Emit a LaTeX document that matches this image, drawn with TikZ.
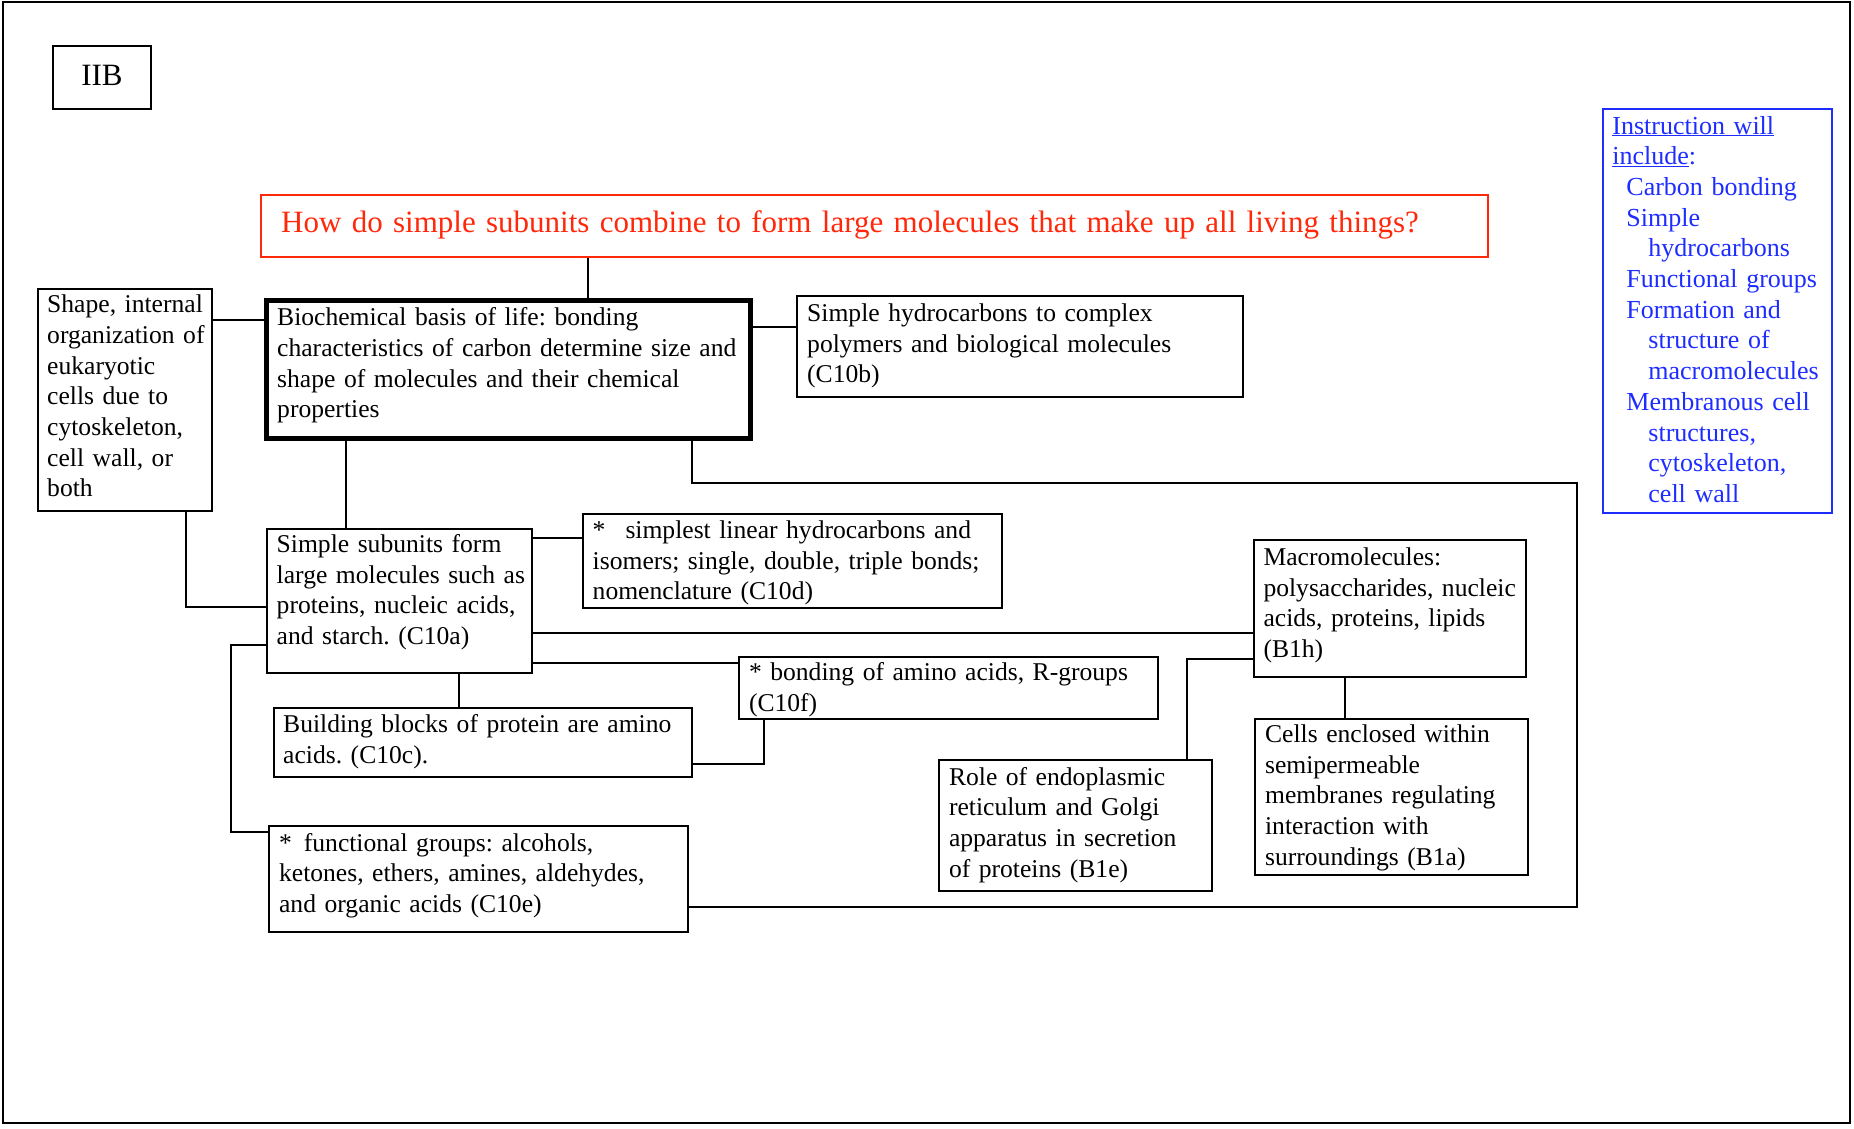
\documentclass[tikz,border=0pt]{standalone}
\usepackage{fontspec}
\setmainfont{Liberation Serif}
\frenchspacing
\definecolor{qred}{RGB}{255,40,10}
\definecolor{iblue}{RGB}{30,45,255}
\newcommand\mybox[6][]{%
  \node[bx,#1,minimum width={(#5-#3)*1pt},minimum height={(#6-#4)*1pt}] (#2) at ({(#3+#5)/2},{(#4+#6)/2}) {};}
\begin{document}
\begin{tikzpicture}[x=1pt,y=-1pt,
  bx/.style={draw, line width=2pt, inner sep=0pt},
  tx/.style={anchor=base west, inner sep=0pt, align=left, text width=600pt, font=\fontsize{25.6}{30.7}\selectfont\frenchspacing},
  ln/.style={line width=2pt}]
\useasboundingbox (0,0) rectangle (1854,1128);
\draw[line width=2pt] (3,2) rectangle (1850,1123);

% IIB
\mybox{iib}{53}{46.4}{151}{109}
\node[inner sep=0pt, anchor=base, font=\fontsize{31}{36}\selectfont] (iibt) at (102,85.7) {IIB};

% question
\mybox[draw=qred]{q}{261}{195}{1488}{256.7}
\node[tx, text=qred, font=\fontsize{31}{38}\selectfont, text width=1300pt] (qt) at (281,232.5) {How do simple subunits combine to form large molecules that make up all living things?};

% boxes
\mybox{shape}{38}{288.6}{212}{511.4}
\node[tx] (shapet) at ([shift={(10,25)}]shape.north west) {Shape, internal\\organization of\\eukaryotic\\cells due to\\cytoskeleton,\\cell wall, or\\both};

\mybox[line width=5pt]{bio}{266.5}{300}{750}{438.5}
\node[tx] (biot) at ([shift={(13,28.1)}]bio.north west) {Biochemical basis of life: bonding\\characteristics of carbon determine size and\\shape of molecules and their chemical\\properties};

\mybox{hydro}{797}{296}{1242.5}{397}
\node[tx] (hydrot) at ([shift={(11,26.3)}]hydro.north west) {Simple hydrocarbons to complex\\polymers and biological molecules\\(C10b)};

\mybox{ss}{267}{528.5}{532}{673.3}
\node[tx] (sst) at ([shift={(10.5,25)}]ss.north west) {Simple subunits form\\large molecules such as\\proteins, nucleic acids,\\and starch. (C10a)};

\mybox{simp}{583}{514.3}{1002.3}{607.5}
\node[tx] (simpt) at ([shift={(10.5,25)}]simp.north west) {*\hspace{20pt}simplest linear hydrocarbons and\\isomers; single, double, triple bonds;\\nomenclature (C10d)};

\mybox{macro}{1253.8}{540}{1525.6}{677}
\node[tx] (macrot) at ([shift={(10.5,26.3)}]macro.north west) {Macromolecules:\\polysaccharides, nucleic\\acids, proteins, lipids\\(B1h)};

\mybox{bond}{739.3}{656.7}{1157.6}{719.3}
\node[tx] (bondt) at ([shift={(10.5,25)}]bond.north west) {* bonding of amino acids, R-groups\\(C10f)};

\mybox{blocks}{274}{708.3}{691.8}{776.7}
\node[tx] (blockst) at ([shift={(10,25)}]blocks.north west) {Building blocks of protein are amino\\acids. (C10c).};

\mybox{role}{939.3}{760}{1212}{890.7}
\node[tx] (rolet) at ([shift={(10.5,26)}]role.north west) {Role of endoplasmic\\reticulum and Golgi\\apparatus in secretion\\of proteins (B1e)};

\mybox{cells}{1255.4}{718.7}{1527.7}{875}
\node[tx] (cellst) at ([shift={(10.5,24.7)}]cells.north west) {Cells enclosed within\\semipermeable\\membranes regulating\\interaction with\\surroundings (B1a)};

\mybox{func}{268.9}{826}{687.8}{931.7}
\node[tx] (funct) at ([shift={(11,26)}]func.north west) {*\hspace{12pt}functional groups: alcohols,\\ketones, ethers, amines, aldehydes,\\and organic acids (C10e)};

% instruction box
\mybox[draw=iblue]{instr}{1602.7}{109.3}{1832.3}{513.3}
\node[tx, text=iblue, font=\fontsize{26}{30.7}\selectfont] (instrt) at ([shift={(10.5,25.7)}]instr.north west) {\underline{Instruction will}\\\underline{include}:\\\hspace*{14pt}Carbon bonding\\\hspace*{14pt}Simple\\\hspace*{36pt}hydrocarbons\\\hspace*{14pt}Functional groups\\\hspace*{14pt}Formation and\\\hspace*{36pt}structure of\\\hspace*{36pt}macromolecules\\\hspace*{14pt}Membranous cell\\\hspace*{36pt}structures,\\\hspace*{36pt}cytoskeleton,\\\hspace*{36pt}cell wall};

% connectors
\coordinate (bendA) at (692,482.7);
\coordinate (bendB) at (1576.5,482.7);
\coordinate (bendC) at (1576.5,906.7);
\coordinate (bendD) at (186,607);
\coordinate (bendE) at (230.6,645);
\coordinate (bendF) at (230.6,832.3);
\coordinate (bendG) at (763.8,764.3);
\coordinate (bendH) at (1186.6,659);

\draw[ln] (q.south -| 588,0) -- (bio.north -| 588,0);
\draw[ln] (shape.east |- 0,320.4) -- (bio.west |- 0,320.4);
\draw[ln] (bio.east |- 0,326.5) -- (hydro.west |- 0,326.5);
\draw[ln] (bio.south -| 346.4,0) -- (ss.north -| 346.4,0);
\draw[ln] (bio.south -| bendA) -- (bendA) -- (bendB) -- (bendC) -- (func.east |- bendC);
\draw[ln] (shape.south -| bendD) -- (bendD) -- (ss.west |- bendD);
\draw[ln] (ss.east |- 0,538.3) -- (simp.west |- 0,538.3);
\draw[ln] (ss.east |- 0,632.7) -- (macro.west |- 0,632.7);
\draw[ln] (ss.east |- 0,662.7) -- (bond.west |- 0,662.7);
\draw[ln] (ss.south -| 458.7,0) -- (blocks.north -| 458.7,0);
\draw[ln] (blocks.east |- bendG) -- (bendG) -- (bond.south -| bendG);
\draw[ln] (ss.west |- bendE) -- (bendE) -- (bendF) -- (func.west |- bendF);
\draw[ln] (macro.west |- bendH) -- (bendH) -- (role.north -| bendH);
\draw[ln] (macro.south -| 1344.6,0) -- (cells.north -| 1344.6,0);
\end{tikzpicture}
\end{document}
